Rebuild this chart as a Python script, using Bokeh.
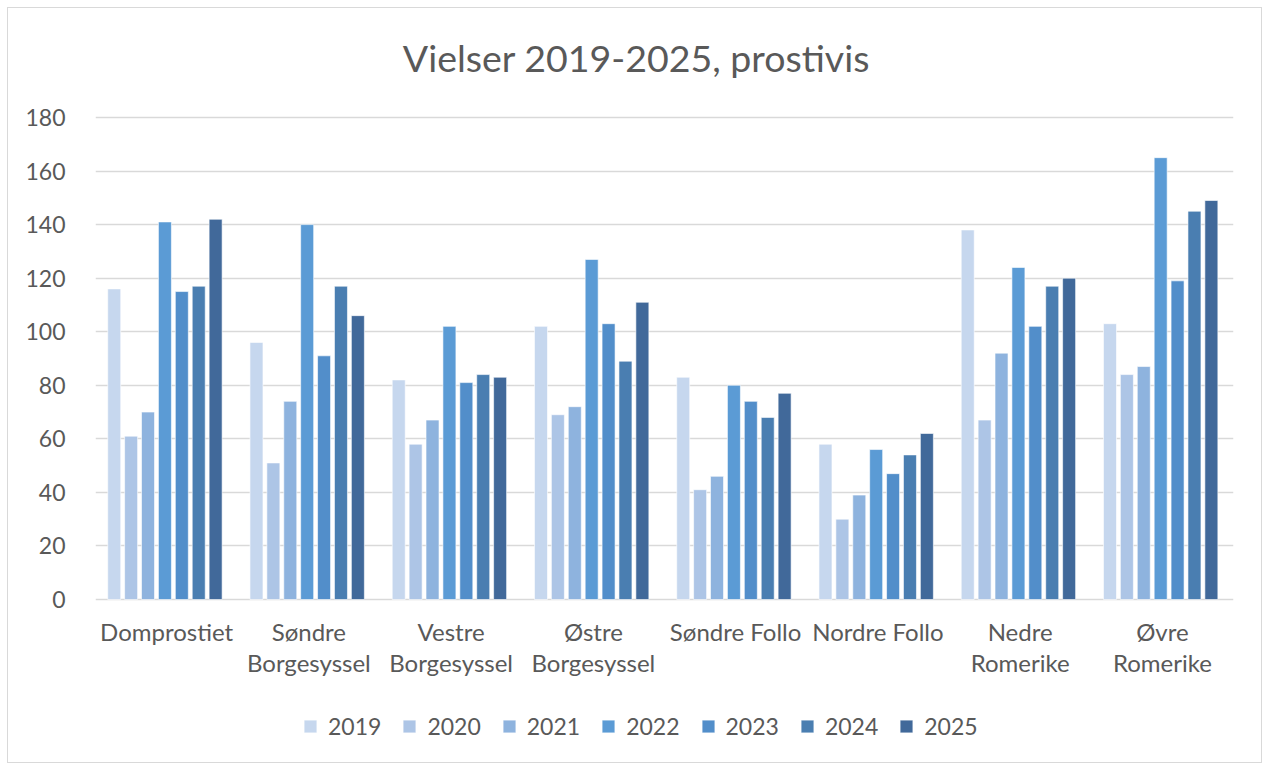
from bokeh.plotting import figure
from bokeh.models import (ColumnDataSource, FactorRange, Range1d, FixedTicker,
                          Legend, LegendItem, Label)
from bokeh.core.properties import value
from bokeh.transform import dodge
from bokeh.embed import file_html
from bokeh.resources import INLINE

categories = ["Domprostiet", "Søndre Borgesyssel", "Vestre Borgesyssel",
              "Østre Borgesyssel", "Søndre Follo", "Nordre Follo",
              "Nedre Romerike", "Øvre Romerike"]
years = ["2019", "2020", "2021", "2022", "2023", "2024", "2025"]

v2019 = [116, 96, 82, 102, 83, 58, 138, 103]
v2020 = [61, 51, 58, 69, 41, 30, 67, 84]
v2021 = [70, 74, 67, 72, 46, 39, 92, 87]
v2022 = [141, 140, 102, 127, 80, 56, 124, 165]
v2023 = [115, 91, 81, 103, 74, 47, 102, 119]
v2024 = [117, 117, 84, 89, 68, 54, 117, 145]
v2025 = [142, 106, 83, 111, 77, 62, 120, 149]

y_ticks = [0, 20, 40, 60, 80, 100, 120, 140, 160, 180]
colors = ["#C6D7EE", "#ADC5E6", "#8EB3DE", "#5B9BD5", "#528ECA", "#4A7EB1", "#41699A"]
title_text = "Vielser 2019-2025, prostivis"

label_lines = {
    "Søndre Borgesyssel": "Søndre\nBorgesyssel",
    "Vestre Borgesyssel": "Vestre\nBorgesyssel",
    "Østre Borgesyssel": "Østre\nBorgesyssel",
    "Nedre Romerike": "Nedre\nRomerike",
    "Øvre Romerike": "Øvre\nRomerike",
}

series = [v2019, v2020, v2021, v2022, v2023, v2024, v2025]
data = {"cat": categories,
        "label": [label_lines.get(c, c) for c in categories],
        "base": [0] * len(categories)}
for y, s in zip(years, series):
    data["y" + y] = s
source = ColumnDataSource(data)

FONT = "Lato"
TXT = "#595959"

# the frame covers the full chart height; the value axis occupies the
# 0..180 band, title sits above it and category labels/legend below it
W, H = 1255, 756
TOP_PAD, BOTTOM_PAD = 109, 165
PX_PER_UNIT = (H - TOP_PAD - BOTTOM_PAD) / 180
y_start = -BOTTOM_PAD / PX_PER_UNIT
y_end = 180 + TOP_PAD / PX_PER_UNIT

p = figure(x_range=FactorRange(*categories), y_range=Range1d(y_start, y_end),
           width=W, height=H, output_backend="svg", toolbar_location=None,
           min_border_left=87, min_border_right=30, min_border_top=0,
           min_border_bottom=0)
p.styles = {"border": "1px solid #d9d9d9"}
p.margin = (7, 0, 0, 7)
p.outline_line_color = None
p.title.visible = False

step = 0.1188
renderers = []
for i, (y, c) in enumerate(zip(years, colors)):
    r = p.vbar(x=dodge("cat", (i - 3) * step - 0.012, range=p.x_range),
               top="y" + y, bottom=0, width=0.0914, source=source, fill_color=c,
               line_color="white", line_alpha=0.6, line_width=1)
    renderers.append(r)

p.text(x="cat", y="base", text="label", source=source, y_offset=17,
       text_align="center", text_baseline="top", text_font=value(FONT),
       text_font_size="24px", text_color=TXT, text_line_height=1.1)

title = Label(x=541, y=H - 49, x_units="screen", y_units="screen",
              text=title_text, text_align="center", text_baseline="middle",
              text_font=FONT, text_font_size="37.5px", text_color=TXT)
p.add_layout(title)

p.yaxis.ticker = FixedTicker(ticks=y_ticks)
p.yaxis.axis_line_color = None
p.yaxis.major_tick_line_color = None
p.yaxis.minor_tick_line_color = None
p.yaxis.major_label_text_font = FONT
p.yaxis.major_label_text_font_size = "23px"
p.yaxis.major_label_text_color = TXT
p.yaxis.major_label_standoff = 24

p.xaxis.visible = False
p.xgrid.grid_line_color = None
p.ygrid.grid_line_color = "#d9d9d9"
p.ygrid.grid_line_width = 1.5
p.ygrid.ticker = FixedTicker(ticks=y_ticks)

legend = Legend(items=[LegendItem(label=y, renderers=[r]) for y, r in zip(years, renderers)],
                orientation="horizontal", location=(207, 24))
legend.border_line_color = None
legend.background_fill_alpha = 0
legend.label_text_font = FONT
legend.label_text_font_size = "23px"
legend.label_text_color = TXT
legend.glyph_width = 16
legend.glyph_height = 16
legend.label_standoff = 10
legend.spacing = 20
legend.padding = 10
p.add_layout(legend, "center")

open("out.html", "w").write(file_html(p, INLINE))
